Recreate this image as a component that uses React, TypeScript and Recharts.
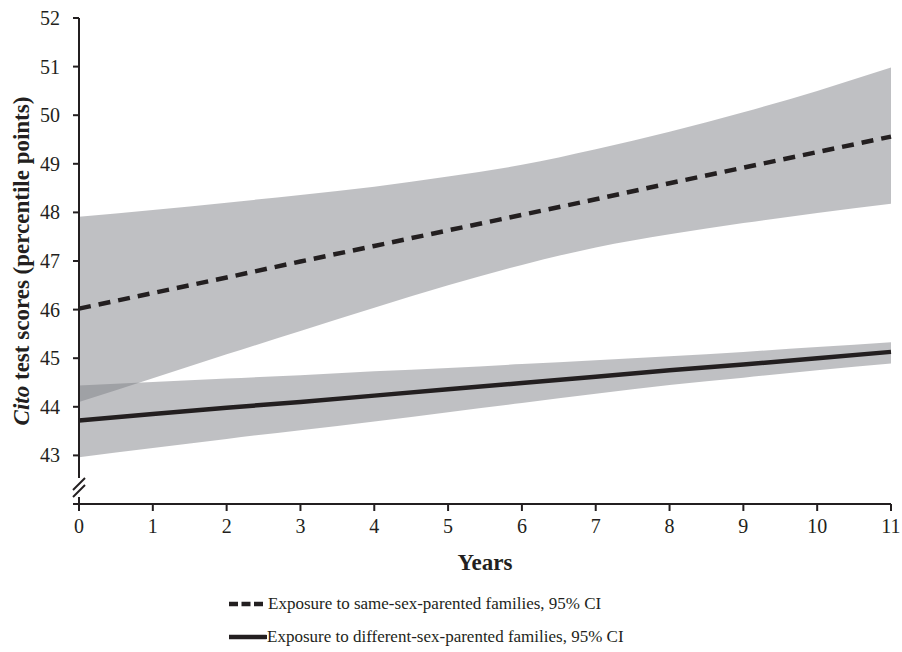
import { ComposedChart, Area, Line, XAxis, YAxis, Legend } from "recharts";

const years = [0, 1, 2, 3, 4, 5, 6, 7, 8, 9, 10, 11];
const sameSexFit = [46.02, 46.34, 46.66, 46.99, 47.31, 47.63, 47.95, 48.27, 48.6, 48.92, 49.24, 49.56];
const sameSexLow = [44.1, 44.59, 45.08, 45.56, 46.04, 46.5, 46.92, 47.28, 47.55, 47.78, 47.99, 48.18];
const sameSexHigh = [47.91, 48.05, 48.2, 48.36, 48.53, 48.74, 48.98, 49.3, 49.66, 50.06, 50.5, 50.98];
const diffSexFit = [43.72, 43.85, 43.98, 44.1, 44.23, 44.36, 44.49, 44.62, 44.75, 44.87, 45.0, 45.13];
const diffSexLow = [42.96, 43.15, 43.34, 43.52, 43.7, 43.89, 44.08, 44.27, 44.45, 44.6, 44.75, 44.89];
const diffSexHigh = [44.44, 44.51, 44.58, 44.65, 44.73, 44.8, 44.88, 44.96, 45.04, 45.13, 45.23, 45.33];
const yTicks = [42, 43, 44, 45, 46, 47, 48, 49, 50, 51, 52];
const legendLabels = [
  "Exposure to same-sex-parented families, 95% CI",
  "Exposure to different-sex-parented families, 95% CI",
];

const data = years.map((year, i) => ({
  year,
  sameFit: sameSexFit[i],
  sameBand: [sameSexLow[i], sameSexHigh[i]],
  diffFit: diffSexFit[i],
  diffBand: [diffSexLow[i], diffSexHigh[i]],
}));

const INK = "#231f20";
const FONT = "'Liberation Serif', 'Times New Roman', serif";
const AXIS_X = 79;

function YTick(props: any) {
  const { y, payload } = props;
  if (payload.value === 42) {
    // axis break marks
    return (
      <g>
        <rect x={AXIS_X - 3} y={y - 26} width={6} height={19} fill="#fff" />
        <line x1={AXIS_X - 6} y1={y - 14} x2={AXIS_X + 6} y2={y - 26} stroke={INK} strokeWidth={2} />
        <line x1={AXIS_X - 6} y1={y - 7} x2={AXIS_X + 6} y2={y - 19} stroke={INK} strokeWidth={2} />
      </g>
    );
  }
  return (
    <text x={AXIS_X - 19} y={y} dy={7} textAnchor="end" fill={INK} fontSize={20} fontFamily={FONT}>
      {payload.value}
    </text>
  );
}

function YLabel(props: any) {
  const { viewBox } = props;
  const cx = 21;
  const cy = viewBox.y + viewBox.height / 2;
  return (
    <text
      x={cx}
      y={cy}
      transform={`rotate(-90, ${cx}, ${cy})`}
      textAnchor="middle"
      dominantBaseline="central"
      fill={INK}
      fontSize={23}
      fontWeight="bold"
      fontFamily={FONT}
    >
      <tspan fontStyle="italic">Cito</tspan> test scores (percentile points)
    </text>
  );
}

function LegendContent() {
  return (
    <div style={{ width: 902, height: 78, position: "relative", fontFamily: FONT, fontSize: 17, color: INK }}>
      <div style={{ position: "absolute", left: 229, top: 20, display: "flex", alignItems: "center" }}>
        <svg width={36} height={10}>
          <line x1={0} y1={5} x2={34} y2={5} stroke={INK} strokeWidth={4.5} strokeDasharray="9 3.5" />
        </svg>
        <span style={{ marginLeft: 3 }}>{legendLabels[0]}</span>
      </div>
      <div style={{ position: "absolute", left: 229, top: 53, display: "flex", alignItems: "center" }}>
        <svg width={38} height={10}>
          <line x1={0} y1={5} x2={37} y2={5} stroke={INK} strokeWidth={4.5} strokeLinecap="round" />
        </svg>
        <span>{legendLabels[1]}</span>
      </div>
    </div>
  );
}

export default function App() {
  return (
    <div style={{ position: "absolute", left: 0, top: 0, width: 902, height: 652 }}>
      <ComposedChart width={902} height={652} data={data} margin={{ top: 18, right: 11, bottom: 0, left: 0 }}>
        <XAxis
          dataKey="year"
          type="number"
          domain={[0, 11]}
          ticks={years}
          interval={0}
          height={70}
          tickSize={7}
          tickMargin={8}
          stroke={INK}
          strokeWidth={2}
          tick={{ fill: INK, fontSize: 20, fontFamily: FONT }}
          label={{
            value: "Years",
            position: "insideTop",
            offset: 50,
            fill: INK,
            fontSize: 23,
            fontWeight: "bold",
            fontFamily: FONT,
          }}
        />
        <YAxis
          type="number"
          domain={[42, 52]}
          ticks={yTicks}
          interval={0}
          width={79}
          tickSize={6}
          stroke={INK}
          strokeWidth={2}
          tick={<YTick />}
          label={<YLabel />}
        />
        <Legend verticalAlign="bottom" align="left" content={<LegendContent />} wrapperStyle={{ left: 0, width: 902 }} />
        <Area
          dataKey="sameBand"
          type="monotone"
          stroke="none"
          fill="#808288"
          fillOpacity={0.5}
          isAnimationActive={false}
          legendType="none"
        />
        <Area
          dataKey="diffBand"
          type="monotone"
          stroke="none"
          fill="#808288"
          fillOpacity={0.5}
          isAnimationActive={false}
          legendType="none"
        />
        <Line
          dataKey="sameFit"
          type="linear"
          stroke={INK}
          strokeWidth={4.5}
          strokeDasharray="12 8"
          dot={false}
          isAnimationActive={false}
        />
        <Line
          dataKey="diffFit"
          type="linear"
          stroke={INK}
          strokeWidth={4.5}
          dot={false}
          isAnimationActive={false}
        />
      </ComposedChart>
    </div>
  );
}
